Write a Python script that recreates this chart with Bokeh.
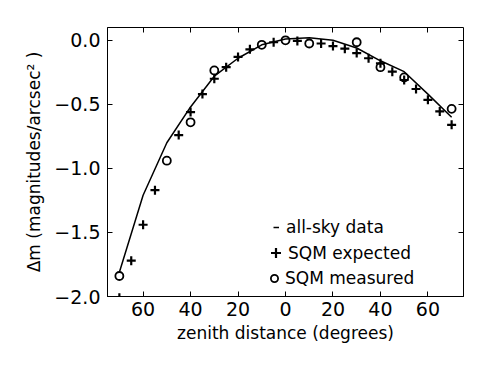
from bokeh.plotting import figure
from bokeh.models import (LinearAxis, FixedTicker, Legend, LegendItem, Range1d)
from bokeh.embed import file_html
from bokeh.resources import INLINE

# ---- data ----
sky_zd = [-70, -60, -50, -40, -30, -20, -10, 0, 10, 20, 30, 40, 50, 60, 70]
sky_dm = [-1.81, -1.21, -0.80, -0.52, -0.28, -0.14, -0.035, 0.01, 0.02, 0.0,
          -0.06, -0.16, -0.245, -0.42, -0.60]

exp_zd = [-70, -65, -60, -55, -45, -40, -35, -30, -25, -20, -15, -5, 5,
          15, 20, 25, 30, 35, 40, 45, 50, 55, 60, 65, 70]
exp_dm = [-2.01, -1.72, -1.44, -1.17, -0.74, -0.56, -0.42, -0.30, -0.21, -0.13,
          -0.07, -0.015, -0.005, -0.025, -0.045, -0.065, -0.10, -0.14, -0.18,
          -0.245, -0.31, -0.38, -0.465, -0.555, -0.66]

meas_zd = [-70, -50, -40, -30, -10, 0, 10, 30, 40, 50, 70]
meas_dm = [-1.84, -0.94, -0.64, -0.235, -0.035, 0.0, -0.025, -0.015, -0.21,
           -0.29, -0.535]

x_ticks = [-60, -40, -20, 0, 20, 40, 60]
x_tick_labels = ["60", "40", "20", "0", "20", "40", "60"]
y_ticks = [0.0, -0.5, -1.0, -1.5, -2.0]
y_tick_labels = ["0.0", "\u22120.5", "\u22121.0", "\u22121.5", "\u22122.0"]

x_label = "zenith distance (degrees)"
y_label = "\u0394m (magnitudes/arcsec\u00b2 )"
legend_labels = ["all-sky data", "SQM expected", "SQM measured"]

FONT = "DejaVu Sans"

p = figure(width=483, height=360, output_backend="svg", toolbar_location=None,
           x_range=Range1d(-75, 75), y_range=Range1d(-2.0, 0.1),
           min_border_left=107, min_border_right=20, min_border_top=27,
           min_border_bottom=64)
p.background_fill_color = "white"
p.border_fill_color = "white"
p.outline_line_color = "black"
p.outline_line_width = 1
p.xgrid.visible = False
p.ygrid.visible = False

line_r = p.line(sky_zd, sky_dm, line_color="black", line_width=1.5)
plus_r = p.scatter(exp_zd, exp_dm, marker="cross", size=9, line_color="black",
                   line_width=2.2)
circ_r = p.scatter(meas_zd, meas_dm, marker="circle", size=8, line_color="black",
                   fill_color=None, line_width=1.8)

def style_axis(ax, ticks, labels, show_labels=True):
    ax.ticker = FixedTicker(ticks=ticks)
    ax.major_tick_in = 5
    ax.major_tick_out = 0
    ax.minor_tick_line_color = None
    ax.major_tick_line_color = "black"
    ax.axis_line_color = "black"
    ax.major_label_text_font = FONT
    ax.major_label_text_color = "black"
    ax.axis_label_text_font = FONT
    ax.axis_label_text_font_style = "normal"
    ax.axis_label_text_font_size = "17px"
    ax.axis_label_text_color = "black"
    if show_labels:
        ax.major_label_overrides = dict(zip(ticks, labels))
        ax.major_label_text_font_size = "19px"
    else:
        ax.major_label_overrides = {t: "" for t in ticks}
        ax.major_label_text_font_size = "1px"
        ax.major_label_standoff = 0
        ax.axis_line_color = None

xa = p.xaxis[0]
style_axis(xa, x_ticks, x_tick_labels)
xa.axis_label = x_label
xa.major_label_standoff = 5
xa.axis_label_standoff = 4

ya = p.yaxis[0]
style_axis(ya, y_ticks, y_tick_labels)
ya.axis_label = y_label
ya.major_label_standoff = 7
ya.axis_label_standoff = 7

top = LinearAxis()
style_axis(top, x_ticks, x_tick_labels, show_labels=False)
p.add_layout(top, "above")
right = LinearAxis()
style_axis(right, y_ticks, y_tick_labels, show_labels=False)
p.add_layout(right, "right")

def make_legend(item, loc, gw, gh, standoff):
    lg = Legend(items=[item], location=loc, glyph_width=gw, glyph_height=gh,
                label_standoff=standoff, padding=0, margin=0, spacing=0,
                border_line_color=None, background_fill_alpha=0,
                label_text_font=FONT, label_text_font_size="17px",
                label_text_color="black", label_height=gh)
    p.add_layout(lg, "center")

make_legend(LegendItem(label=legend_labels[0], renderers=[line_r]), (166, 59), 6, 20, 7)
make_legend(LegendItem(label=legend_labels[1], renderers=[plus_r]), (156, 31), 25, 25, -3)
make_legend(LegendItem(label=legend_labels[2], renderers=[circ_r]), (158, 8), 18, 18, 2)

open("out.html", "w").write(file_html(p, INLINE))
